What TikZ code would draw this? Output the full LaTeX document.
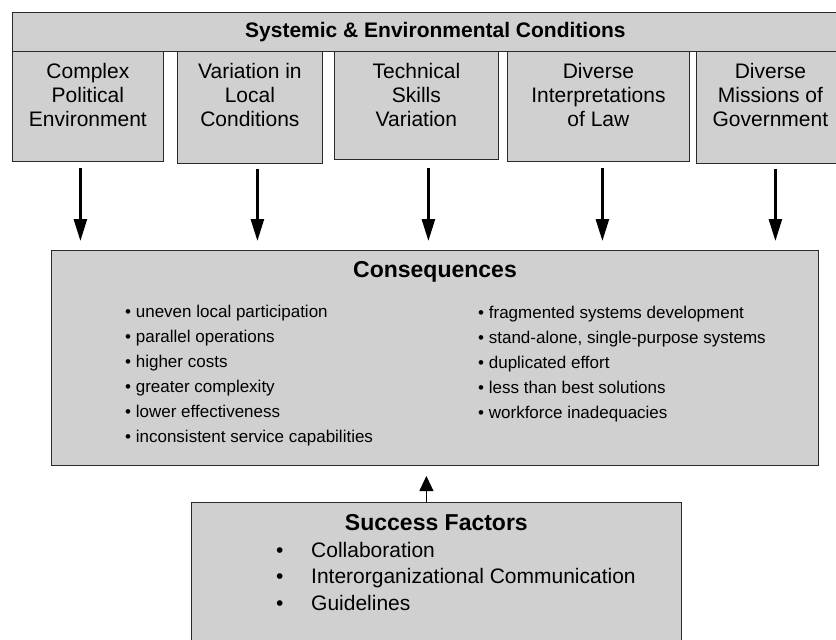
\documentclass[tikz,border=0pt]{standalone}
\usepackage{fontspec}
\setmainfont{Liberation Sans}
\usetikzlibrary{arrows.meta,positioning,calc}
\definecolor{bx}{HTML}{D0D0D0}
\definecolor{ln}{HTML}{2A2A2A}
\newcommand{\fs}[2]{\fontsize{#1}{#2}\selectfont}

\begin{document}
\begin{tikzpicture}[x=1pt,y=-1pt,
  condbox/.style={draw=ln, fill=bx, line width=0.8pt, anchor=north west, inner sep=0pt},
  condtxt/.style={anchor=north, align=center, inner sep=0pt, font=\fs{21}{24}},
  headtxt/.style={anchor=north, inner sep=0pt, font=\bfseries\fs{23}{27}},
  bulletlist/.style={anchor=north west, align=left, inner sep=0pt, font=\fs{17}{25}},
  flowdown/.style={line width=2.6pt, -{Triangle[length=22pt,width=13pt]}, shorten >=9pt},
  flowup/.style={line width=1pt, -{Triangle[length=15pt,width=14pt]}, shorten >=10pt}]
  \clip (0,0) rectangle (836,640);

  % five conditions under the common header
  \node[condbox, minimum width=151pt, minimum height=110pt] (f1) at (12,51) {};
  \node[condbox, minimum width=145pt, minimum height=112pt] (f2) at (177,51) {};
  \node[condbox, minimum width=164pt, minimum height=108pt] (f3) at (334,51) {};
  \node[condbox, minimum width=182pt, minimum height=110pt] (f4) at (507,51) {};
  \node[condbox, minimum width=148pt, minimum height=112pt] (f5) at (696,51) {};
  \node[condbox, minimum width=846pt, minimum height=39pt, font=\bfseries\fs{21}{24}]
    (sys) at (12,12) {Systemic \& Environmental Conditions};

  \node[condtxt] (f1t) at ([yshift=-12pt]f1.north) {Complex\\Political\\Environment};
  \node[condtxt] (f2t) at ([yshift=-12pt]f2.north) {Variation in\\Local\\Conditions};
  \node[condtxt] (f3t) at ([yshift=-12pt]f3.north) {Technical\\Skills\\Variation};
  \node[condtxt] (f4t) at ([yshift=-12pt]f4.north) {Diverse\\Interpretations\\of Law};
  \node[condtxt] (f5t) at ([yshift=-12pt]f5.north) {Diverse\\Missions of\\Government};

  % consequences
  \node[condbox, minimum width=767pt, minimum height=215pt, line width=1pt] (cons) at (51,250) {};
  \node[headtxt] (consT) at ([yshift=-11pt]cons.north) {Consequences};
  \node[bulletlist] (consL) at (125,305) {%
    \textbullet\ uneven local participation\\
    \textbullet\ parallel operations\\
    \textbullet\ higher costs\\
    \textbullet\ greater complexity\\
    \textbullet\ lower effectiveness\\
    \textbullet\ inconsistent service capabilities};
  \node[bulletlist] (consR) at (478,306) {%
    \textbullet\ fragmented systems development\\
    \textbullet\ stand-alone, single-purpose systems\\
    \textbullet\ duplicated effort\\
    \textbullet\ less than best solutions\\
    \textbullet\ workforce inadequacies};

  % success factors
  \node[condbox, minimum width=490pt, minimum height=160pt] (succ) at (191,502) {};
  \node[headtxt] (succT) at ([yshift=-12pt]succ.north) {Success Factors};
  \node[bulletlist, font=\fs{21}{26.5}] (succL) at (276,542) {%
    \makebox[35pt][l]{\textbullet}Collaboration\\
    \makebox[35pt][l]{\textbullet}Interorganizational Communication\\
    \makebox[35pt][l]{\textbullet}Guidelines};

  % arrows
  \draw[flowdown] ([xshift=-7.5pt,yshift=-6pt]f1.south) -- ([xshift=-7.5pt]f1.south |- cons.north);
  \draw[flowdown] ([xshift=7.5pt,yshift=-5pt]f2.south) -- ([xshift=7.5pt]f2.south |- cons.north);
  \draw[flowdown] ([xshift=12pt,yshift=-8pt]f3.south) -- ([xshift=12pt]f3.south |- cons.north);
  \draw[flowdown] ([xshift=4pt,yshift=-6pt]f4.south) -- ([xshift=4pt]f4.south |- cons.north);
  \draw[flowdown] ([xshift=5pt,yshift=-5pt]f5.south) -- ([xshift=5pt]f5.south |- cons.north);
  \draw[flowup] ([xshift=-10pt]succ.north) -- ([xshift=-10pt]succ.north |- cons.south);
\end{tikzpicture}
\end{document}
